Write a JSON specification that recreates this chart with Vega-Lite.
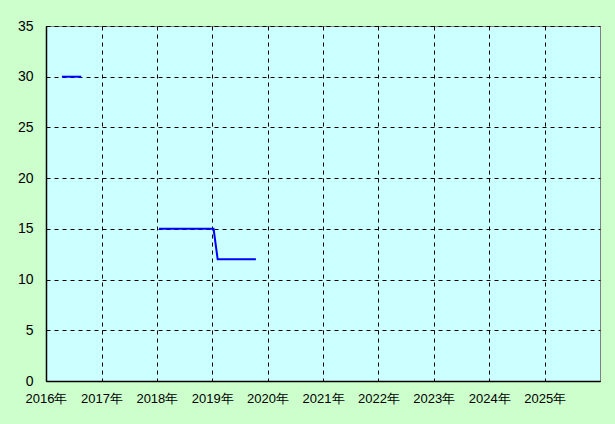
{
  "$schema": "https://vega.github.io/schema/vega-lite/v6.json",
  "width": 554,
  "height": 355,
  "autosize": {"type": "none"},
  "padding": {"left": 46, "top": 26, "right": 15, "bottom": 43},
  "background": "#ccffcc",
  "config": {
    "view": {"fill": "#ccffff", "stroke": "#808080", "strokeWidth": 1},
    "axis": {
      "labelFont": "Liberation Sans",
      "labelFontSize": 13,
      "labelColor": "#000000",
      "domainColor": "#000000",
      "domainWidth": 1.5,
      "ticks": false,
      "gridColor": "#000000",
      "gridDash": [4, 4],
      "gridOpacity": 1,
      "gridWidth": 1,
      "title": null
    }
  },
  "data": {
    "values": [
      {"date": "2016-04-15", "value": 30, "seg": "a"},
      {"date": "2016-08-20", "value": 30, "seg": "a"},
      {"date": "2018-01-15", "value": 15, "seg": "b"},
      {"date": "2019-01-10", "value": 15, "seg": "b"},
      {"date": "2019-02-06", "value": 12, "seg": "b"},
      {"date": "2019-10-16", "value": 12, "seg": "b"}
    ]
  },
  "mark": {"type": "line", "color": "#0000ff", "strokeWidth": 2},
  "encoding": {
    "x": {
      "field": "date",
      "type": "temporal",
      "scale": {"domain": [{"year": 2016, "month": 1, "date": 1}, {"year": 2026, "month": 1, "date": 1}]},
      "axis": {
        "values": [
          {"year": 2016}, {"year": 2017}, {"year": 2018}, {"year": 2019}, {"year": 2020},
          {"year": 2021}, {"year": 2022}, {"year": 2023}, {"year": 2024}, {"year": 2025}
        ],
        "format": "%Y年",
        "labelPadding": 11,
        "labelAlign": "center",
        "labelFlush": false
      }
    },
    "y": {
      "field": "value",
      "type": "quantitative",
      "scale": {"domain": [0, 35], "nice": false},
      "axis": {"values": [0, 5, 10, 15, 20, 25, 30, 35], "labelPadding": 13, "labelFontSize": 14}
    },
    "detail": {"field": "seg"}
  }
}
